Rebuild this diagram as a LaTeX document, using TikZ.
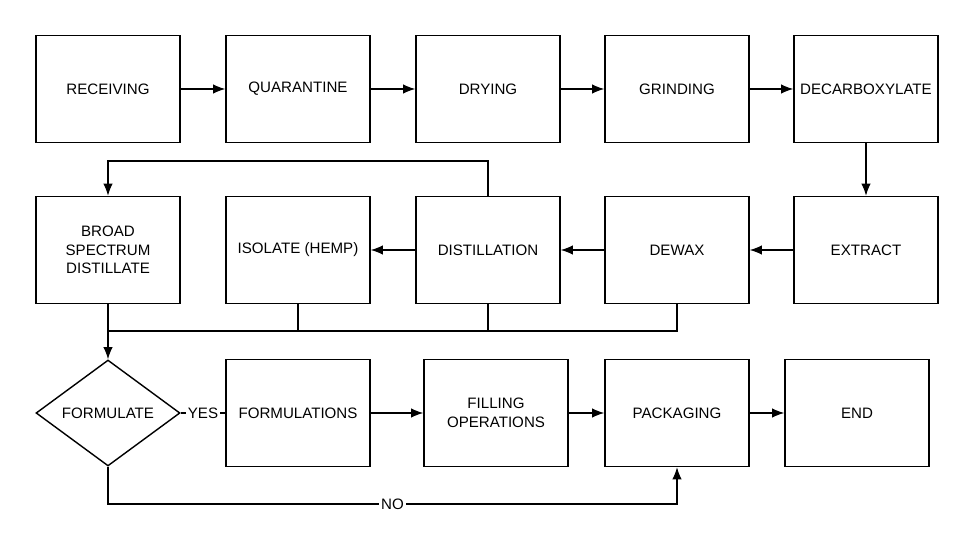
\documentclass[tikz,border=0pt]{standalone}
\usepackage{fontspec}
\setmainfont{Liberation Sans}
\usetikzlibrary{shapes.geometric,arrows.meta}

\begin{document}
\begin{tikzpicture}[x=0.02cm,y=-0.02cm,
    stage/.style={draw,thick,minimum width=2.88cm,minimum height=2.14cm,align=center,font=\fontsize{8.6}{10.5}\selectfont,inner sep=1pt},
    choice/.style={draw,thick,diamond,minimum width=2.88cm,minimum height=2.12cm,aspect=1.35,inner sep=0pt,font=\fontsize{8.6}{10.5}\selectfont},
    tag/.style={fill=white,inner sep=1pt,font=\fontsize{8.6}{10.5}\selectfont},
    flow/.style={thick,-{Latex[length=7pt,width=5.5pt]}}]
    \useasboundingbox (0,0) rectangle (974,550);
    % top row
    \node[stage] (recv) at (108,89) {RECEIVING};
    \node[stage] (quar) at (298,89) {QUARANTINE};
    \node[stage] (dry) at (488,89) {DRYING};
    \node[stage] (grind) at (677,89) {GRINDING};
    \node[stage] (decarb) at (866,89) {DECARBOXYLATE};
    % middle row
    \node[stage] (extract) at (866,250) {EXTRACT};
    \node[stage] (dewax) at (677,250) {DEWAX};
    \node[stage] (distil) at (488,250) {DISTILLATION};
    \node[stage] (isolate) at (298,250) {ISOLATE (HEMP)};
    \node[stage] (broad) at (108,250) {BROAD\\SPECTRUM\\DISTILLATE};
    % bottom row
    \node[choice] (form) at (108,413) {FORMULATE};
    \node[stage] (formul) at (298,413) {FORMULATIONS};
    \node[stage] (fill) at (496,413) {FILLING\\OPERATIONS};
    \node[stage] (pack) at (677,413) {PACKAGING};
    \node[stage] (end) at (857,413) {END};
    \coordinate (bus) at (108,331);
    \coordinate (nobend) at (108,504);

    \draw[flow] (recv) -- (quar);
    \draw[flow] (quar) -- (dry);
    \draw[flow] (dry) -- (grind);
    \draw[flow] (grind) -- (decarb);
    \draw[flow] (decarb) -- (extract);
    \draw[flow] (extract) -- (dewax);
    \draw[flow] (dewax) -- (distil);
    \draw[flow] (distil) -- (isolate);
    \draw[flow] (distil.north) -- ++(0,-35) -| (broad.north);
    % collecting line
    \draw[thick] (broad.south) -- (bus) -- (dewax.south |- bus) -- (dewax.south);
    \draw[thick] (isolate.south) -- (isolate.south |- bus);
    \draw[thick] (distil.south) -- (distil.south |- bus);
    \draw[flow] (bus) -- (form.north);
    \draw[thick] (form.east) -- node[tag] {YES} (formul.west);
    \draw[flow] (formul) -- (fill);
    \draw[flow] (fill) -- (pack);
    \draw[flow] (pack) -- (end);
    \draw[flow] (form.south) -- (nobend) -- node[tag] {NO} (nobend -| pack.south) -- (pack.south);
\end{tikzpicture}
\end{document}
